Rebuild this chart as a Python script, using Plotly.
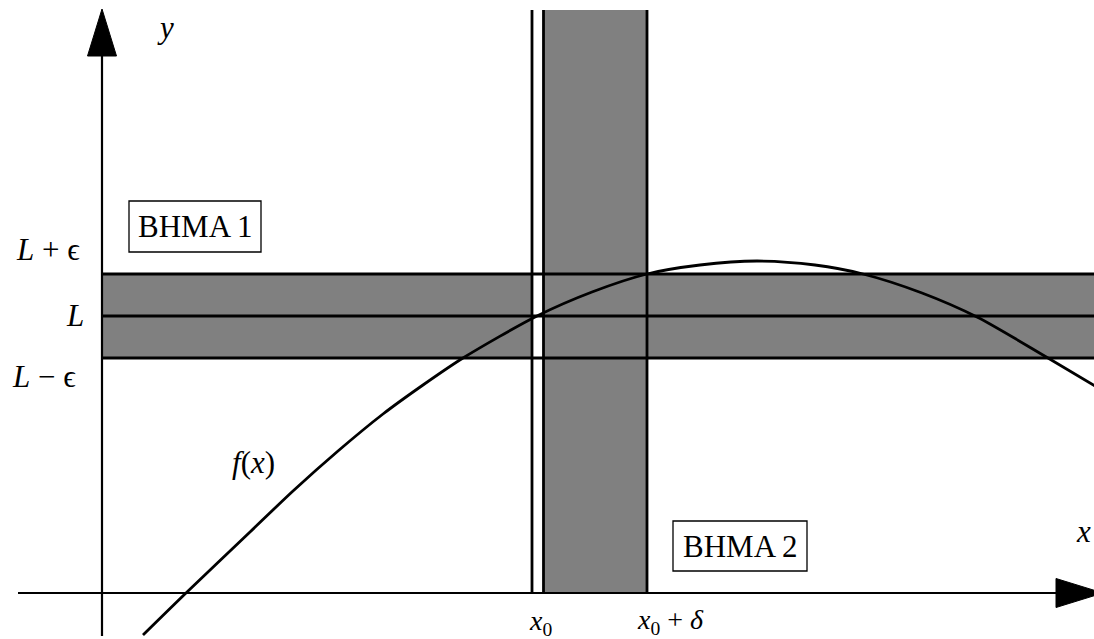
import plotly.graph_objects as go

# Limit definition diagram: epsilon band around L and delta strip beside x0
x0 = 4.30          # position of x0 on the x-axis
x0_gap = 0.115     # thin white gap to the right of x0
delta = 1.15       # width of the delta strip
L = 2.77           # the limit value
eps = 0.42         # half height of the epsilon band
strip_top = 5.83   # top of the vertical strip
band_right = 10.0  # right end of the horizontal band

# f(x) sampled along the drawn curve
curve_x = [0.41, 0.84, 1.48, 1.91, 2.36, 2.81, 3.21, 3.61, 4.35, 4.90, 5.45,
           5.98, 6.55, 7.13, 7.61, 8.20, 8.75, 9.46, 10.0]
curve_y = [-0.42, 0.00, 0.61, 1.02, 1.42, 1.79, 2.08, 2.35, 2.77, 3.01, 3.19,
           3.28, 3.32, 3.28, 3.19, 3.00, 2.76, 2.35, 2.03]

# axes extents
x_axis = [-0.84, 9.54]
x_tip = 10.01
y_axis = [-0.43, 5.37]
y_tip = 5.84
head_half = 0.145

GRAY = "#808080"
LW = 2.8
MATH = "Liberation Serif, DejaVu Serif, serif"

fig = go.Figure()

shapes = []
# gray fills
shapes.append(dict(type="rect", x0=0, x1=x0, y0=L - eps, y1=L + eps,
                   fillcolor=GRAY, line_width=0, layer="below"))
shapes.append(dict(type="rect", x0=x0 + x0_gap, x1=band_right, y0=L - eps, y1=L + eps,
                   fillcolor=GRAY, line_width=0, layer="below"))
shapes.append(dict(type="rect", x0=x0 + x0_gap, x1=x0 + delta, y0=0, y1=strip_top,
                   fillcolor=GRAY, line_width=0, layer="below"))
# horizontal band lines
for yy in (L - eps, L, L + eps):
    shapes.append(dict(type="line", x0=0, x1=band_right, y0=yy, y1=yy,
                       line=dict(color="black", width=LW)))
# vertical strip lines
for xx in (x0, x0 + x0_gap, x0 + delta):
    shapes.append(dict(type="line", x0=xx, x1=xx, y0=0, y1=strip_top,
                       line=dict(color="black", width=LW)))
# axes
shapes.append(dict(type="line", x0=x_axis[0], x1=x_axis[1], y0=0, y1=0,
                   line=dict(color="black", width=2.2)))
shapes.append(dict(type="line", x0=0, x1=0, y0=y_axis[0], y1=y_axis[1],
                   line=dict(color="black", width=2.2)))
# label boxes
shapes.append(dict(type="rect", x0=0.27, x1=1.59, y0=3.41, y1=3.92,
                   line=dict(color="black", width=1.3), fillcolor="white"))
shapes.append(dict(type="rect", x0=5.71, x1=7.05, y0=0.22, y1=0.72,
                   line=dict(color="black", width=1.3), fillcolor="white"))

# arrow heads
fig.add_trace(go.Scatter(x=[x_axis[1], x_tip, x_axis[1], x_axis[1]],
                         y=[head_half, 0, -head_half, head_half],
                         mode="lines", fill="toself", fillcolor="black",
                         line=dict(color="black", width=1), hoverinfo="skip"))
fig.add_trace(go.Scatter(x=[-head_half, 0, head_half, -head_half],
                         y=[y_axis[1], y_tip, y_axis[1], y_axis[1]],
                         mode="lines", fill="toself", fillcolor="black",
                         line=dict(color="black", width=1), hoverinfo="skip"))

# the function curve
fig.add_trace(go.Scatter(x=curve_x, y=curve_y, mode="lines",
                         line=dict(color="black", width=LW, shape="spline", smoothing=0.8),
                         hoverinfo="skip"))

ann = []
def label(x, y, text, size=31, xanchor="center", family=MATH):
    ann.append(dict(x=x, y=y, text=text, showarrow=False, xanchor=xanchor,
                    yanchor="middle", font=dict(family=family, size=size, color="black")))

label(0.63, 5.66, "<i>y</i>")
label(9.81, 0.62, "<i>x</i>")
label(-0.20, 3.44, "<i>L</i> + ϵ", xanchor="right")
label(-0.16, 2.78, "<i>L</i>", xanchor="right")
label(-0.24, 2.17, "<i>L</i> − ϵ", xanchor="right")
label(1.51, 1.31, "<i>f</i>(<i>x</i>)")
label(4.38, -0.29, "<i>x</i><sub>0</sub>", size=28)
label(5.68, -0.28, "<i>x</i><sub>0</sub> + <i>δ</i>", size=28)
label(0.93, 3.665, "BHMA 1", size=31)
label(6.38, 0.47, "BHMA 2", size=31)

fig.update_layout(
    width=1094, height=639,
    margin=dict(l=0, r=0, t=0, b=0),
    paper_bgcolor="white", plot_bgcolor="white",
    showlegend=False,
    xaxis=dict(range=[-1.02, 9.92], visible=False, fixedrange=True),
    yaxis=dict(range=[-0.46, 5.93], visible=False, fixedrange=True),
    shapes=shapes, annotations=ann,
)

fig.write_html("out.html")
